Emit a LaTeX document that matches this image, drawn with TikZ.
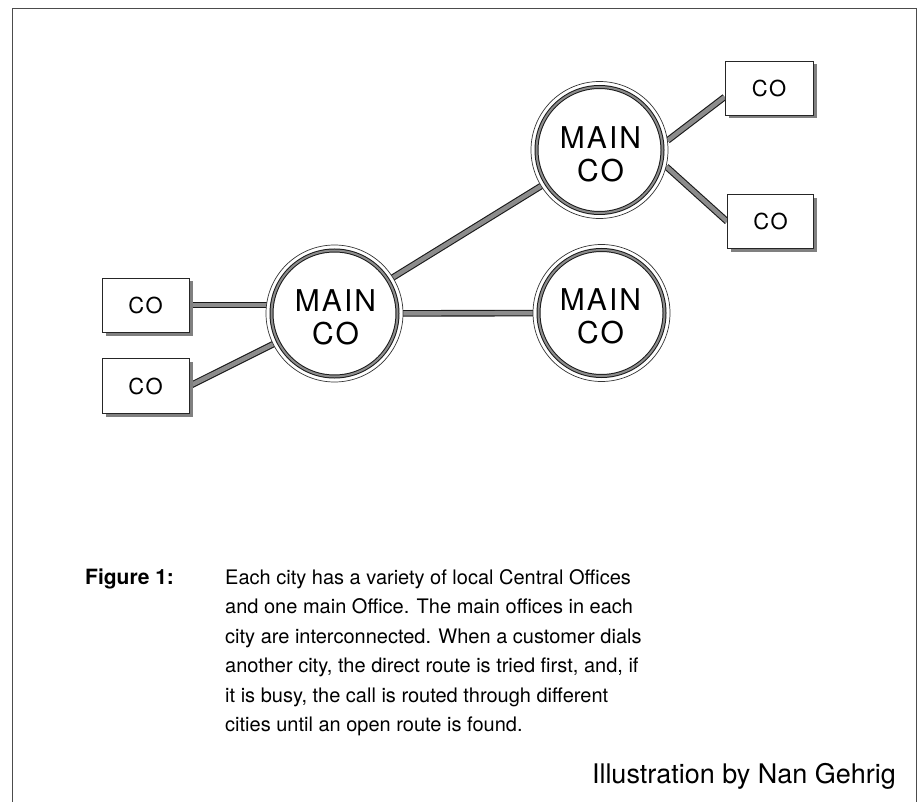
\documentclass[tikz,border=0pt]{standalone}
\usepackage{fontspec}
\setmainfont{TeX Gyre Heros}
\newfontfamily\spacedsans[LetterSpace=7]{TeX Gyre Heros}
\usetikzlibrary{shadows,backgrounds}
\tikzset{
  link/.style={draw=black!90, line width=1.1pt, double=black!45, double distance=4.4pt},
  ring/.style={draw=black!90, line width=1pt, double=black!45, double distance=2pt},
  mainco/.style={circle, draw=black!80, line width=0.7pt, fill=white, minimum size=137pt, inner sep=0pt},
  maintext/.style={align=center, inner sep=0pt, font=\spacedsans\fontsize{30}{33}\selectfont},
  cobox/.style={rectangle, draw=black!85, line width=0.8pt, fill=white, inner sep=0pt,
    font=\spacedsans\fontsize{22}{22}\selectfont,
    drop shadow={shadow xshift=3.5pt, shadow yshift=-3.5pt, fill=black!50, opacity=1}},
  frame/.style={draw=black!70, line width=0.8pt},
}
\begin{document}
\begin{tikzpicture}[x=1pt, y=-1pt]
\useasboundingbox (0,0) rectangle (921,802);
\draw[frame] (12,802) -- (12,8) -- (916,8) -- (916,802);

% main offices
\node[mainco] (m1) at (334.5,313.5) {};
\node[mainco] (m2) at (599.5,150) {};
\node[mainco] (m3) at (601.5,313) {};
\draw[ring] (m1.center) circle (63);
\draw[ring] (m2.center) circle (63);
\draw[ring] (m3.center) circle (63);
\node[maintext] (m1t) at ([xshift=1pt,yshift=-4pt]m1.center) {MAIN\\CO};
\node[maintext] (m2t) at ([xshift=1pt,yshift=-4pt]m2.center) {MAIN\\CO};
\node[maintext] (m3t) at ([xshift=-1pt,yshift=-3pt]m3.center) {MAIN\\CO};

% local offices
\node[cobox, minimum width=87pt, minimum height=54pt] (co1) at (145.5,305) {CO};
\node[cobox, minimum width=87pt, minimum height=55pt] (co2) at (145.5,386) {CO};
\node[cobox, minimum width=88pt, minimum height=54pt] (co3) at (769,88) {CO};
\node[cobox, minimum width=86pt, minimum height=54pt] (co4) at (770.5,221.5) {CO};

% connectors
\begin{scope}[on background layer]
\draw[link] (co1.east) -- (co1.east -| m1.center);
\draw[link] (co2.east) -- (m1.center);
\draw[link] (m1.center) -- (m2.center);
\draw[link] (m1.center) -- (m3.center);
\draw[link] (m2.8) -- ([yshift=-9pt]co3.west);
\draw[link] (m2.-14) -- (co4.west);
\end{scope}

% caption
\node[anchor=base west, inner sep=0pt, font=\fontsize{21}{21}\selectfont\bfseries] (fig) at (85,584) {Figure 1:};
\node[anchor=base west, inner sep=0pt, align=left, font=\fontsize{20}{29.5}\selectfont] (cap) at (225,731.5)
{Each city has a variety of local Central Offices\\
and one main Office. The main offices in each\\
city are interconnected. When a customer dials\\
another city, the direct route is tried first, and, if\\
it is busy, the call is routed through different\\
cities until an open route is found.};
\node[anchor=base east, inner sep=0pt, font=\fontsize{27}{27}\selectfont] (credit) at (896,783) {Illustration by Nan Gehrig};
\end{tikzpicture}
\end{document}
